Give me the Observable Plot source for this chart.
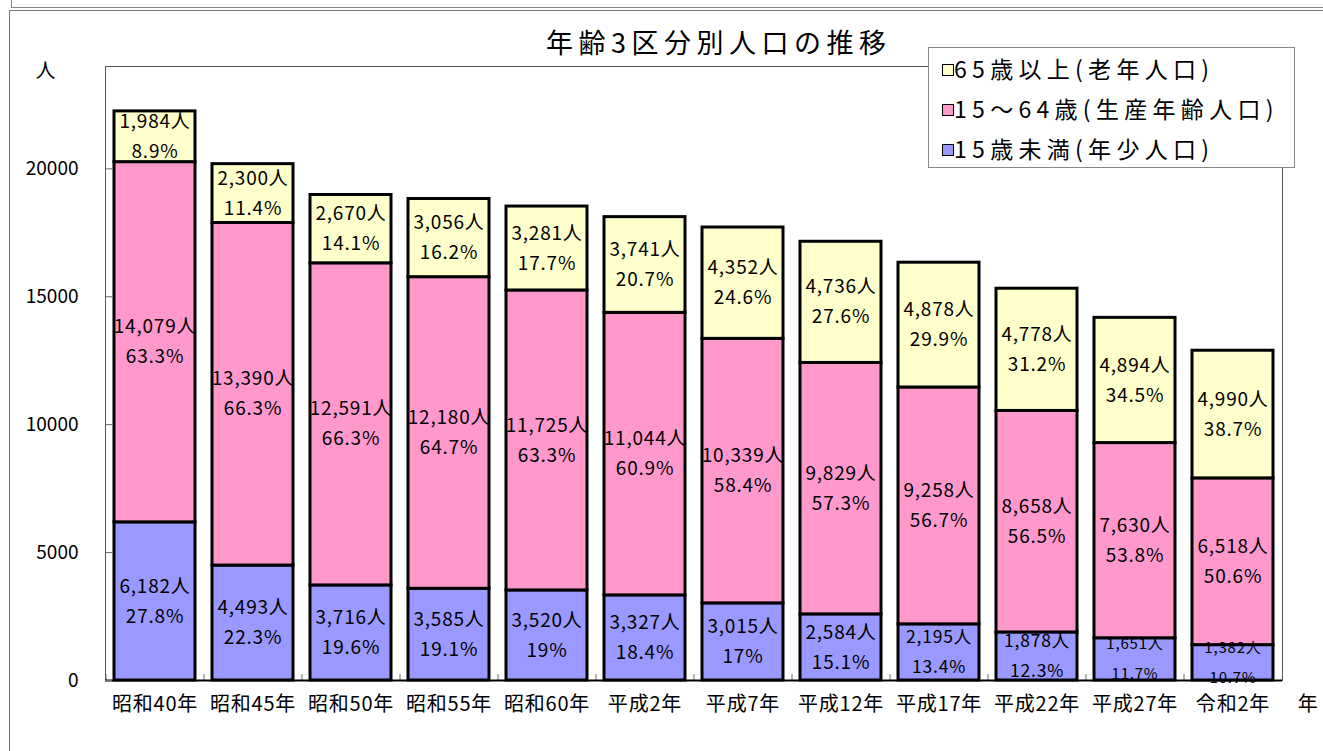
<!DOCTYPE html>
<html>
<head>
<meta charset="utf-8">
<script src="https://cdn.jsdelivr.net/npm/d3@7"></script>
<script src="https://cdn.jsdelivr.net/npm/@observablehq/plot@0.6"></script>
<style>
  html, body { margin: 0; padding: 0; background: #fff; }
  #wrap { position: relative; width: 1323px; height: 751px; overflow: hidden; font-family: "Noto Sans CJK JP", sans-serif; }
  #b1 { position: absolute; left: 11px; top: -10px; width: 1400px; height: 17px; border-left: 1px solid #888; border-bottom: 1px solid #888; }
  #b2 { position: absolute; left: 9px; top: 10px; width: 1400px; height: 800px; border-left: 1px solid #777; border-top: 1px solid #777; }
  #chart { position: absolute; left: 0; top: 0; }
  #title { position: absolute; left: 546px; top: 25px; font-size: 27px; letter-spacing: 5.5px; color: #000; white-space: nowrap; line-height: 34px; }
  #legend { position: absolute; left: 928px; top: 47px; width: 367px; height: 121px; border: 1px solid #888; background: #fff; box-sizing: border-box; }
  .item { position: absolute; left: 13px; font-size: 23px; letter-spacing: 5.3px; white-space: nowrap; line-height: 30px; }
  .sw { display: inline-block; width: 10px; height: 10px; border: 1.5px solid #000; margin-right: 0px; vertical-align: 2px; }
  svg .xl text { letter-spacing: 2px; }
  svg [aria-label="text"] text { letter-spacing: 0.8px; }
</style>
</head>
<body>
<div id="wrap">
  <div id="b1"></div>
  <div id="b2"></div>
  <div id="chart"></div>
  <div id="title"></div>
  <div id="legend"></div>
</div>
<script>
const categories = ["昭和40年","昭和45年","昭和50年","昭和55年","昭和60年","平成2年","平成7年","平成12年","平成17年","平成22年","平成27年","令和2年"];
const groups = ["15歳未満(年少人口)", "15～64歳(生産年齢人口)", "65歳以上(老年人口)"];
const groupColors = ["#9999FF", "#FF99CC", "#FFFFCC"];
const young   = [6182, 4493, 3716, 3585, 3520, 3327, 3015, 2584, 2195, 1878, 1651, 1382];
const working = [14079, 13390, 12591, 12180, 11725, 11044, 10339, 9829, 9258, 8658, 7630, 6518];
const old     = [1984, 2300, 2670, 3056, 3281, 3741, 4352, 4736, 4878, 4778, 4894, 4990];
const youngPct   = [27.8, 22.3, 19.6, 19.1, 19, 18.4, 17, 15.1, 13.4, 12.3, 11.7, 10.7];
const workingPct = [63.3, 66.3, 66.3, 64.7, 63.3, 60.9, 58.4, 57.3, 56.7, 56.5, 53.8, 50.6];
const oldPct     = [8.9, 11.4, 14.1, 16.2, 17.7, 20.7, 24.6, 27.6, 29.9, 31.2, 34.5, 38.7];
const yTicks = [0, 5000, 10000, 15000, 20000];
const title = "年齢3区分別人口の推移";
const legendOrder = [2, 1, 0];

const series = [young, working, old];
const pcts = [youngPct, workingPct, oldPct];
const rows = [];
categories.forEach((c, i) => {
  groups.forEach((g, k) => rows.push({cat: c, group: g, k, value: series[k][i], pct: pcts[k][i]}));
});

const fmt = d3.format(",");
const small = d => d.k === 0 && d.value < 2500;
const fsize = d => !small(d) ? 19 : d.value >= 1800 ? 17.5 : 15;

const chart = Plot.plot({
  width: 1323,
  height: 751,
  marginLeft: 105,
  marginRight: 41,
  marginTop: 66,
  marginBottom: 71,
  style: {fontFamily: "'Noto Sans CJK JP', sans-serif", background: "transparent", overflow: "visible"},
  x: {domain: categories, paddingInner: 0.17, paddingOuter: 0.085, label: null, axis: null},
  y: {domain: [0, 24000], label: null},
  color: {domain: groups, range: groupColors},
  marks: [
    Plot.frame({stroke: "#555", strokeWidth: 1}),
    Plot.ruleX(categories, {x: d => d, dx: -49, y1: 0, y2: 230, stroke: "#666"}),
    Plot.barY(rows, Plot.stackY({x: "cat", y: "value", z: "group", fill: "group", order: groups, stroke: "#000", strokeWidth: 3})),
    Plot.ruleY([0], {stroke: "#000", strokeWidth: 2}),
    Plot.text(rows, Plot.stackY({x: "cat", y: "value", z: "group", order: groups,
      text: d => fmt(d.value) + "人", fontSize: fsize, fill: "#000", dy: -15})),
    Plot.text(rows, Plot.stackY({x: "cat", y: "value", z: "group", order: groups,
      text: d => d.pct + "%", fontSize: fsize, fill: "#000", dy: 15})),
    Plot.axisY({ticks: yTicks, tickFormat: d => String(d), tickSize: -7, tickPadding: 34, fontSize: 19, stroke: "#666", fill: "#000"}),
    Plot.text(categories, {x: d => d, frameAnchor: "bottom", dy: 30, fontSize: 20, fill: "#000", className: "xl"}),
    Plot.text(["年"], {frameAnchor: "bottom-right", dx: 36, dy: 30, fontSize: 20, fill: "#000"}),
    Plot.text(["人"], {frameAnchor: "top-left", dx: -70, dy: -3, fontSize: 20, fill: "#000"})
  ]
});
document.getElementById("chart").appendChild(chart);
document.getElementById("title").textContent = title;

const legend = document.getElementById("legend");
legendOrder.forEach((k, j) => {
  const it = document.createElement("div");
  it.className = "item";
  it.style.top = (5 + j * 40) + "px";
  const sw = document.createElement("span");
  sw.className = "sw";
  sw.style.background = groupColors[k];
  it.appendChild(sw);
  it.appendChild(document.createTextNode(groups[k]));
  legend.appendChild(it);
});
</script>
</body>
</html>
